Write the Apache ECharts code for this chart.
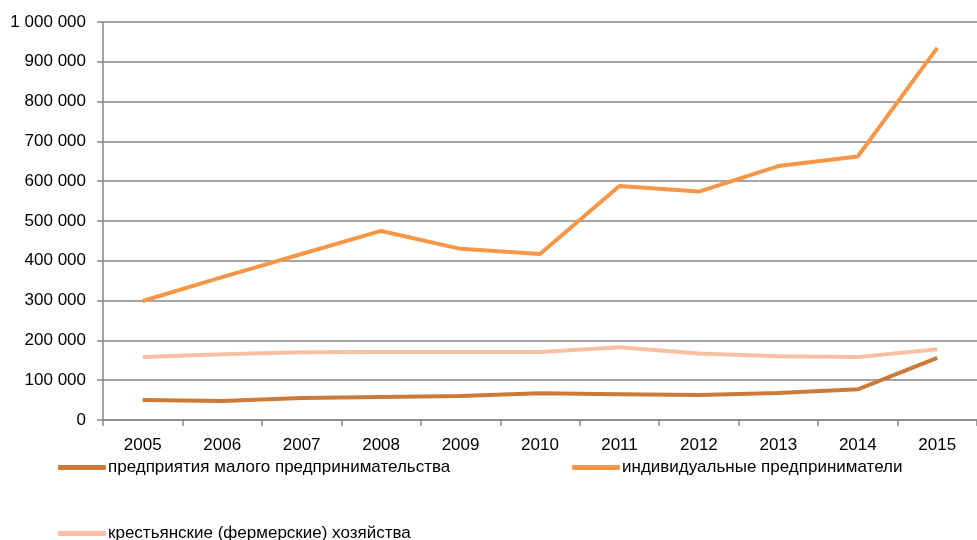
<!DOCTYPE html>
<html>
<head>
<meta charset="utf-8">
<script src="https://cdn.jsdelivr.net/npm/echarts@6/dist/echarts.min.js"></script>
<style>
  html, body { margin: 0; padding: 0; background: #fff; }
  #chart { width: 977px; height: 540px; }
</style>
</head>
<body>
<div id="chart"></div>
<script>
// годы
const years = ['2005', '2006', '2007', '2008', '2009', '2010', '2011', '2012', '2013', '2014', '2015'];
const seriesNames = [
  'предприятия малого предпринимательства',
  'индивидуальные предприниматели',
  'крестьянские (фермерские) хозяйства'
];
// значения
const smallBusiness = [50000, 48000, 55000, 58000, 60000, 67000, 65000, 63000, 68000, 77000, 156000];
const individual = [299000, 359000, 417000, 475000, 430000, 417000, 588000, 574000, 638000, 662000, 935000];
const farms = [158000, 165000, 170000, 171000, 171000, 171000, 183000, 167000, 160000, 158000, 178000];

const colors = ['#CB7A37', '#F79646', '#F7C0A2'];
const fontFamily = 'Liberation Sans, Arial, sans-serif';

const chart = echarts.init(document.getElementById('chart'));

function fmt(v) {
  return String(v).replace(/\B(?=(\d{3})+(?!\d))/g, ' ');
}

function legendAt(name, left, top) {
  return {
    data: [name],
    left: left,
    top: top,
    icon: 'roundRect',
    itemWidth: 48,
    itemHeight: 5,
    itemGap: 0,
    padding: 0,
    textStyle: { fontFamily: fontFamily, fontSize: 17, color: '#000', padding: [0, 0, 0, -3] }
  };
}

const option = {
  animation: false,
  color: colors,
  legend: [
    legendAt(seriesNames[0], 58, 459),
    legendAt(seriesNames[1], 572, 459),
    legendAt(seriesNames[2], 58, 525)
  ],
  grid: {
    left: 103,
    right: 0,
    top: 22,
    bottom: 120
  },
  xAxis: {
    type: 'category',
    data: years,
    boundaryGap: true,
    axisLine: { lineStyle: { color: '#868686', width: 1.5 } },
    axisTick: { show: true, length: 6, lineStyle: { color: '#868686', width: 1.5 } },
    axisLabel: { color: '#000', fontFamily: fontFamily, fontSize: 17, margin: 17 }
  },
  yAxis: {
    type: 'value',
    min: 0,
    max: 1000000,
    interval: 100000,
    axisLine: { show: true, lineStyle: { color: '#868686', width: 1.5 } },
    axisTick: { show: true, length: 6, lineStyle: { color: '#868686', width: 1.5 } },
    axisLabel: {
      color: '#000', fontFamily: fontFamily, fontSize: 17, margin: 17,
      formatter: fmt
    },
    splitLine: { lineStyle: { color: '#868686', width: 1.5 } }
  },
  series: [
    { name: seriesNames[0], type: 'line', data: smallBusiness, showSymbol: false, lineStyle: { width: 4 } },
    { name: seriesNames[1], type: 'line', data: individual, showSymbol: false, lineStyle: { width: 4 } },
    { name: seriesNames[2], type: 'line', data: farms, showSymbol: false, lineStyle: { width: 4 } }
  ]
};

chart.setOption(option);
</script>
</body>
</html>
